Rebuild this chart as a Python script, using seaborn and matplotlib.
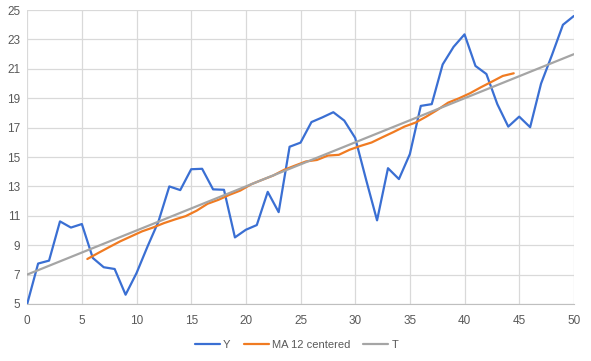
import numpy as np
import pandas as pd
import seaborn as sns
from matplotlib import pyplot as plt

#--------------------------Data------------------------------------------------
x_y = list(range(0, 51))
y_vals = [5.0, 7.75, 7.95, 10.62, 10.2, 10.44, 8.13, 7.5, 7.38, 5.63,
          7.1, 8.9, 10.6, 13.0, 12.75, 14.17, 14.2, 12.8, 12.77, 9.53,
          10.05, 10.37, 12.63, 11.25, 15.7, 15.98, 17.38, 17.7, 18.05, 17.48,
          16.3, 13.45, 10.69, 14.24, 13.5, 15.2, 18.48, 18.6, 21.3, 22.5,
          23.35, 21.2, 20.65, 18.6, 17.07, 17.75, 17.03, 20.0, 21.95, 24.0,
          24.6]

x_ma = [5.5 + i for i in range(40)]
ma_vals = [8.06, 8.47, 8.87, 9.26, 9.6, 9.94, 10.2, 10.5, 10.75, 10.98,
           11.35, 11.82, 12.09, 12.43, 12.72, 13.15, 13.45, 13.74, 14.13, 14.42,
           14.7, 14.8, 15.1, 15.15, 15.5, 15.76, 15.99, 16.35, 16.7, 17.07,
           17.34, 17.75, 18.2, 18.7, 19.0, 19.34, 19.75, 20.13, 20.52, 20.7]

x_t = [0, 50]
t_vals = [7.0, 22.0]

#--------------------------Plot------------------------------------------------
sns.set_style("white")
plt.rcParams['font.family'] = ['Liberation Sans', 'DejaVu Sans']

fig = plt.figure(figsize=(5.91, 3.61), dpi=100)
ax = fig.add_axes([0.046, 0.158, 0.925, 0.814])

sns.lineplot(x=x_y, y=y_vals, ax=ax, color='#3A6FD3', linewidth=1.6, label='Y')
sns.lineplot(x=x_ma, y=ma_vals, ax=ax, color='#F07B22', linewidth=1.6, label='MA 12 centered')
sns.lineplot(x=x_t, y=t_vals, ax=ax, color='#A5A5A5', linewidth=1.6, label='T')

ax.set_xlim(0, 50)
ax.set_ylim(5, 25)
ax.set_xticks(range(0, 51, 5))
ax.set_yticks(range(5, 26, 2))
ax.grid(True, color='#D9D9D9', linewidth=0.9)
ax.set_axisbelow(True)
for s in ['top', 'right', 'left']:
    ax.spines[s].set_visible(False)
ax.spines['bottom'].set_color('#BFBFBF')
ax.tick_params(axis='both', length=0, labelsize=8.5, colors='#595959')
ax.tick_params(axis='x', pad=8)
ax.tick_params(axis='y', pad=5)

ax.legend(loc='center', bbox_to_anchor=(0.493, -0.14), ncol=3, frameon=False,
          fontsize=8, handlelength=2.25, columnspacing=1.2, handletextpad=0.25,
          labelcolor='#595959')

fig.savefig('out.png', dpi=100)
